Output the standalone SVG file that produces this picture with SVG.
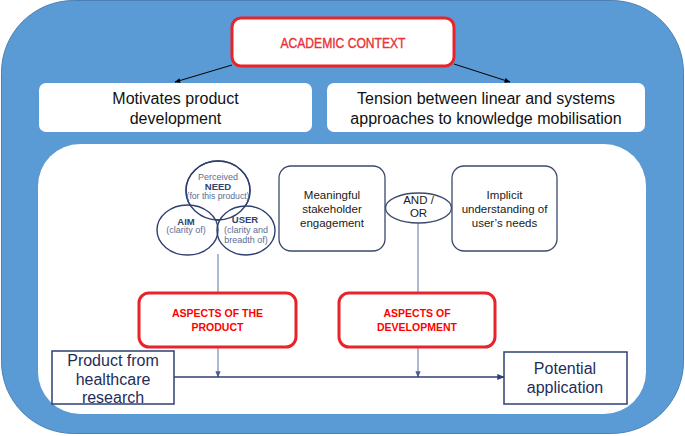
<svg xmlns="http://www.w3.org/2000/svg" width="685" height="436" viewBox="0 0 685 436">
<defs>
<marker id="ah" viewBox="0 0 10 10" refX="9" refY="5" markerWidth="6" markerHeight="6" orient="auto"><path d="M0,1 L10,5 L0,9 z" fill="#000"/></marker>
<marker id="an" viewBox="0 0 10 10" refX="9" refY="5" markerWidth="5" markerHeight="5" orient="auto"><path d="M0,1 L10,5 L0,9 z" fill="#2E3F73"/></marker>
<marker id="av" viewBox="0 0 10 10" refX="9" refY="5" markerWidth="5" markerHeight="5" orient="auto"><path d="M0,1 L10,5 L0,9 z" fill="#4A5E8E"/></marker>
<mask id="outside">
<rect x="0" y="0" width="685" height="436" fill="#fff"/>
<ellipse cx="187.5" cy="230" rx="30.5" ry="25" fill="#000"/>
<ellipse cx="246" cy="230.5" rx="29" ry="24.5" fill="#000"/>
</mask>
<style>
.ctx{fill:#fff;stroke:#E8232A;stroke-width:3}
.wbox{fill:#fff;stroke:none}
.big{font-family:"Liberation Sans",Arial,sans-serif;font-size:16px;fill:#111;text-anchor:middle}
.nav{font-family:"Liberation Sans",Arial,sans-serif;font-size:16px;fill:#1F2D5A;text-anchor:middle}
.mid{font-family:"Liberation Sans",Arial,sans-serif;font-size:11.5px;fill:#1a1a1a;text-anchor:middle}
.red{font-family:"Liberation Sans",Arial,sans-serif;font-size:10.5px;font-weight:bold;fill:#FF0000;text-anchor:middle}
.sm{font-family:"Liberation Sans",Arial,sans-serif;font-size:9px;fill:#5B6E96;text-anchor:middle}
.smb{font-family:"Liberation Sans",Arial,sans-serif;font-size:9.5px;font-weight:bold;fill:#2F4374;text-anchor:middle}
.nb{fill:#fff;stroke:#3B4A6B;stroke-width:1.3}
.circ{fill:none;stroke:#2F3F70;stroke-width:1.4}
.vl{stroke:#7F95BF;stroke-width:1.3;fill:none}
</style>
</defs>
<rect x="1.5" y="0.5" width="682" height="433" rx="72" fill="#5B9BD5" stroke="#4A80B5" stroke-width="1"/>
<rect x="38" y="144" width="608" height="270" rx="42" fill="#fff"/>

<g id="connectors">
<line x1="232" y1="65" x2="175" y2="82" stroke="#000" stroke-width="1" marker-end="url(#ah)"/>
<line x1="454" y1="64" x2="510" y2="82" stroke="#000" stroke-width="1" marker-end="url(#ah)"/>
<line class="vl" x1="218" y1="254" x2="218" y2="293"/>
<line class="vl" x1="218" y1="347" x2="218" y2="377" marker-end="url(#av)"/>
<line class="vl" x1="418" y1="223" x2="418" y2="293"/>
<line class="vl" x1="418" y1="347" x2="418" y2="377" marker-end="url(#av)"/>
<line x1="174" y1="377" x2="504" y2="377" stroke="#2E3F73" stroke-width="1.5" marker-end="url(#an)"/>
</g>

<g id="academic-context">
<rect class="ctx" x="232" y="18" width="222" height="48" rx="9"/>
<text x="343" y="48" font-family="'Liberation Sans Narrow','Liberation Sans',Arial,sans-serif" font-size="14" fill="#E8333A" stroke="#E8333A" stroke-width="0.4" text-anchor="middle" textLength="125" lengthAdjust="spacingAndGlyphs">ACADEMIC CONTEXT</text>
</g>

<g id="motivates">
<rect class="wbox" x="39" y="83" width="273" height="49" rx="7"/>
<text class="big" x="175.5" y="104">Motivates product</text>
<text class="big" x="175.5" y="124">development</text>
</g>

<g id="tension">
<rect class="wbox" x="327" y="83" width="318" height="49" rx="7"/>
<text class="big" x="486" y="104">Tension between linear and systems</text>
<text class="big" x="486" y="124">approaches to knowledge mobilisation</text>
</g>

<g id="venn">
<ellipse class="circ" cx="218" cy="190.5" rx="32" ry="29.5" stroke="#9AA6C0"/>
<ellipse class="circ" cx="218" cy="190.5" rx="32" ry="29.5" mask="url(#outside)"/>
<ellipse class="circ" cx="187.5" cy="230" rx="30.5" ry="25"/>
<ellipse class="circ" cx="246" cy="230.5" rx="29" ry="24.5"/>
<text class="sm" x="218" y="179.5">Perceived</text>
<text class="smb" x="218" y="190">NEED</text>
<text class="sm" x="218" y="198.5" textLength="63" lengthAdjust="spacingAndGlyphs">(for this product)</text>
<text class="smb" x="186" y="224.5">AIM</text>
<text class="sm" x="186" y="233">(clarity of)</text>
<text class="smb" x="245" y="223">USER</text>
<text class="sm" x="246" y="233">(clarity and</text>
<text class="sm" x="246" y="242.5">breadth of)</text>
</g>

<g id="meaningful">
<rect class="nb" x="279" y="166" width="106" height="85" rx="12"/>
<text class="mid" x="332" y="199">Meaningful</text>
<text class="mid" x="332" y="213">stakeholder</text>
<text class="mid" x="332" y="227">engagement</text>
</g>

<g id="and-or">
<ellipse class="nb" cx="418.5" cy="208" rx="33" ry="15"/>
<text class="mid" x="418.5" y="204">AND /</text>
<text class="mid" x="418.5" y="217">OR</text>
</g>

<g id="implicit">
<rect class="nb" x="452" y="166" width="105" height="85" rx="12"/>
<text class="mid" x="504.5" y="199">Implicit</text>
<text class="mid" x="504.5" y="213">understanding of</text>
<text class="mid" x="504.5" y="227">user’s needs</text>
</g>

<g id="aspects-product">
<rect class="ctx" x="139" y="293" width="157" height="54" rx="10"/>
<text class="red" x="217.5" y="317">ASPECTS OF THE</text>
<text class="red" x="217.5" y="331">PRODUCT</text>
</g>

<g id="aspects-development">
<rect class="ctx" x="339" y="293" width="156" height="54" rx="10"/>
<text class="red" x="417" y="317">ASPECTS OF</text>
<text class="red" x="417" y="331">DEVELOPMENT</text>
</g>

<g id="product">
<rect x="52" y="351" width="122" height="53" fill="#fff" stroke="#2E3F73" stroke-width="1.5"/>
<text class="nav" x="113" y="366">Product from</text>
<text class="nav" x="113" y="385">healthcare</text>
<text class="nav" x="113" y="403">research</text>
</g>

<g id="potential">
<rect x="504" y="352" width="123" height="52" fill="#fff" stroke="#2E3F73" stroke-width="1.5"/>
<text class="nav" x="565" y="374">Potential</text>
<text class="nav" x="565" y="393">application</text>
</g>
</svg>
